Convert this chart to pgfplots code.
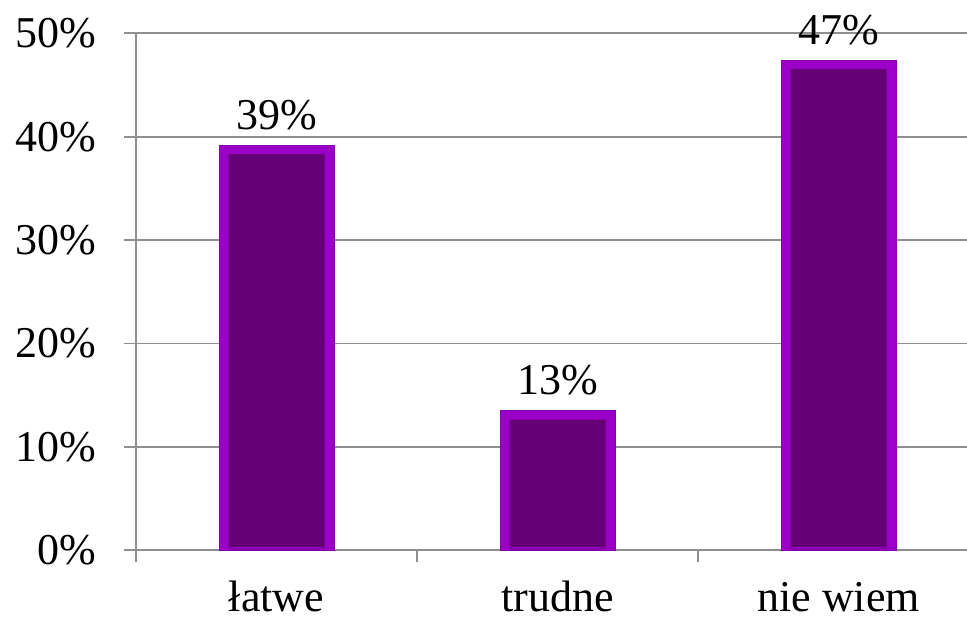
\documentclass[border=0pt]{standalone}
\usepackage{fontspec}
\setmainfont{Liberation Serif}
\usepackage{pgfplots}
\usepackage{pgfplotstable}
\pgfplotsset{compat=1.18}
\definecolor{barlight}{HTML}{9A00C8}
\definecolor{bardark}{HTML}{660077}
\definecolor{gridgray}{HTML}{8F8F8F}

\pgfplotstableread{
x y inner label
0 39.2 38.33 39
1 13.5 12.63 13
2 47.4 46.53 47
}\answers

\begin{document}
\fontsize{33}{40}\selectfont
\begin{tikzpicture}
\begin{axis}[
  scale only axis, width=623.25pt, height=387.75pt,
  xmin=-0.5, xmax=2.457, ymin=0, ymax=50,
  clip=false,
  axis lines=left, axis line style={-, gridgray, line width=1.4pt},
  ymajorgrids, grid style={gridgray, line width=1.4pt},
  ytick={0,10,...,50},
  yticklabel={\pgfmathprintnumber{\tick}\%},
  /pgf/number format/assume math mode=true,
  tick style={gridgray, line width=1.4pt},
  major tick length=9pt, minor tick length=9pt, tick align=outside,
  xtick={0,1,2}, xticklabels={łatwe, trudne, nie wiem},
  major x tick style={draw=none},
  minor xtick={-0.5,0.5,1.5},
  xticklabel style={anchor=base, yshift=-37pt},
  yticklabel style={anchor=east, xshift=-10pt},
  tick label style={font=\fontsize{33}{40}\selectfont},
  ybar, bar shift=0pt,
]
\addplot[fill=barlight, draw=barlight!85!black, line width=0.6pt, bar width=86.25pt,
  point meta=explicit, nodes near coords={\pgfmathprintnumber{\pgfplotspointmeta}\%},
  every node near coord/.append style={anchor=base, yshift=12pt, black, font=\fontsize{33}{40}\selectfont}]
  table[x=x, y=y, meta=label] {\answers};
\addplot[fill=bardark, draw=none, bar width=72pt] table[x=x, y=inner] {\answers};
\addplot[fill=barlight!90!black, draw=none, bar width=72pt] table[x=x, y expr=0.3] {\answers};
\coordinate (ll) at (rel axis cs:0,0);
\coordinate (ur) at (rel axis cs:1,1);
\end{axis}
\pgfresetboundingbox
\path ([shift={(-102pt,-53.8pt)}]ll) rectangle ([shift={(0pt,25pt)}]ur);
\end{tikzpicture}
\end{document}
